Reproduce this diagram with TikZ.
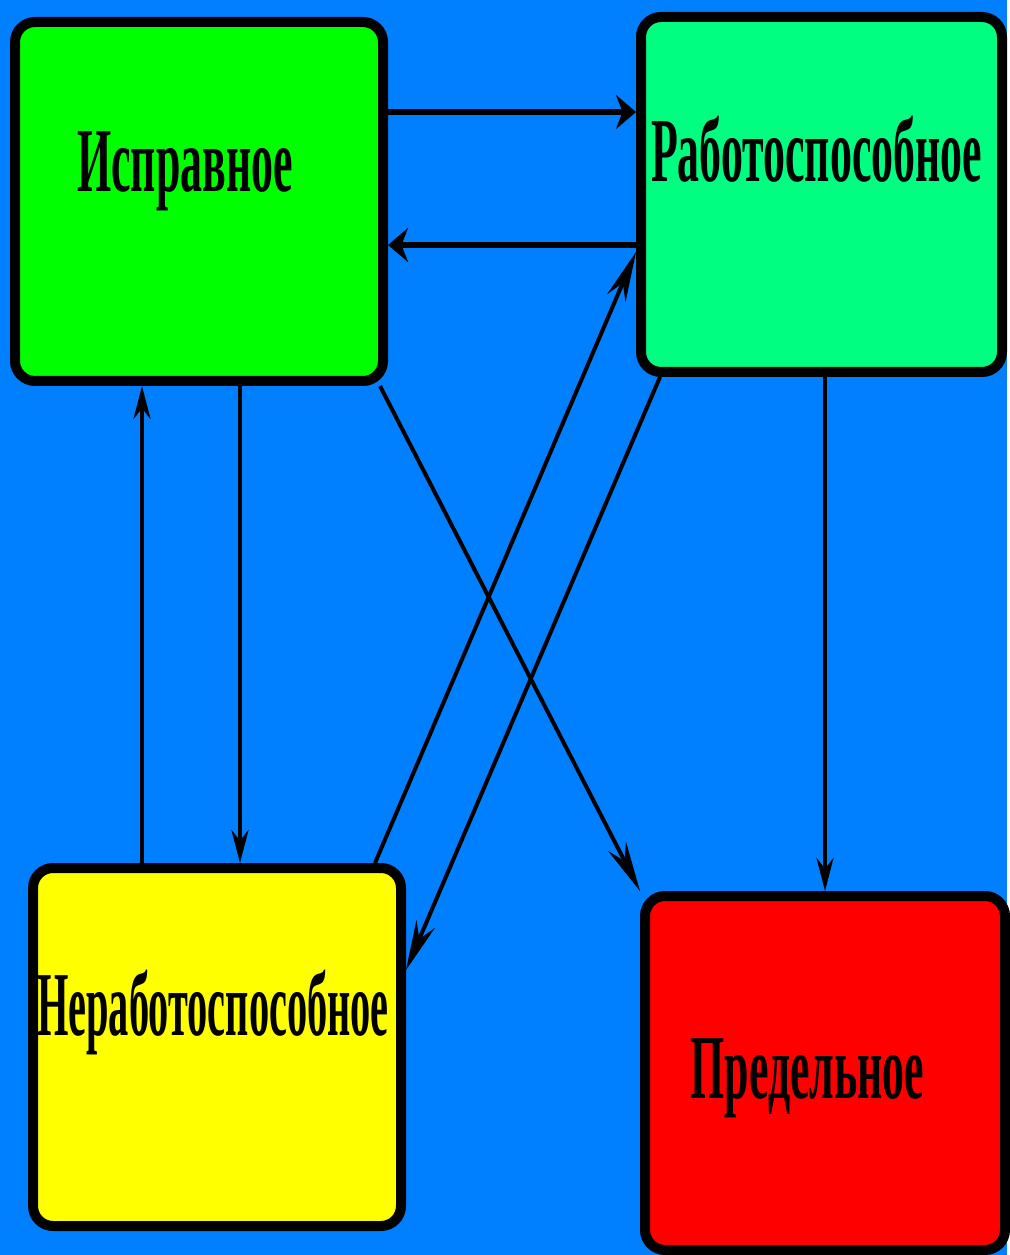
\documentclass[tikz,border=0pt]{standalone}
\usepackage{fontspec}
\newfontfamily\statefont[FakeStretch=0.48]{Liberation Serif}
\usetikzlibrary{positioning, calc}
\usetikzlibrary{arrows.meta}

\begin{document}
\begin{tikzpicture}[x=0.1mm, y=-0.1mm, font=\statefont\bfseries\fontsize{26}{28}\selectfont, line width=0.4mm,
    box/.style={draw=black, line width=1mm, rounded corners=2mm, inner sep=0pt},
    link/.style={-{Stealth[length=3.3mm, width=1.7mm]}, line width=0.4mm},
    bold link/.style={-{Stealth[length=2mm, width=3.4mm]}, line width=0.65mm},
    cross link/.style={-{Stealth[length=5mm, width=2mm]}, line width=0.4mm}]
        % Define colors
        \definecolor{skyblue}{RGB}{0,128,255}
        \definecolor{okgreen}{RGB}{0,255,0}
        \definecolor{springgreen}{RGB}{0,255,128}
        \definecolor{warnyellow}{RGB}{255,255,0}
        \definecolor{limitred}{RGB}{255,0,0}

        % Background
        \fill[skyblue] (0,0) rectangle (1007,1255);

        % Nodes
        \node[box, fill=okgreen, minimum width=36.8mm, minimum height=35.9mm] (isp) at (199,201.5) {};
        \node[box, fill=springgreen, minimum width=36.1mm, minimum height=35.5mm] (rab) at (821.5,194.5) {};
        \node[box, fill=warnyellow, minimum width=36.8mm, minimum height=35.8mm] (nerab) at (217,1047) {};
        \node[box, fill=limitred, minimum width=36mm, minimum height=35.4mm] (pred) at (825,1073) {};

        \node[anchor=base, inner sep=0pt] (isp-text) at (185,192) {Исправное};
        \node[anchor=base, inner sep=0pt] (rab-text) at (816.5,182) {Работоспособное};
        \node[anchor=base, inner sep=0pt, xscale=0.92, transform shape] (nerab-text) at (213,1035) {Неработоспособное};
        \node[anchor=base, inner sep=0pt] (pred-text) at (807.5,1098) {Предельное};

        % Edges
        \draw[bold link] (isp.east |- 0,112) -- (rab.west |- 0,112);
        \draw[bold link] (rab.west |- 0,245) -- (isp.east |- 0,245);
        \draw[link] (nerab.north -| 142,0) -- (isp.south -| 142,0);
        \draw[link] (isp.south -| 240,0) -- (nerab.north -| 240,0);
        \draw[link] (rab.south -| 825,0) -- (pred.north -| 825,0);
        \draw[cross link] (isp.south -| 380,0) -- (pred.north west);
        \draw[cross link] (nerab.north -| 375,0) -- (rab.west |- 0,252);
        \draw[cross link] (rab.south -| 660,0) -- (nerab.east |- 0,970);
    \end{tikzpicture}
\end{document}
